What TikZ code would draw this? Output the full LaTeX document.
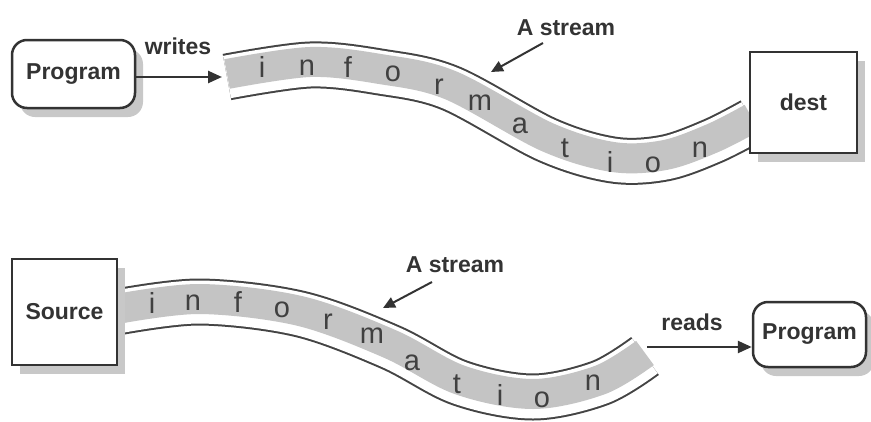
\documentclass[tikz,border=0pt]{standalone}
\usepackage{fontspec}
\setmainfont{Liberation Sans}
\usetikzlibrary{arrows.meta,shadows}
\definecolor{ink}{HTML}{333333}
\definecolor{bandgray}{HTML}{C4C4C4}
\definecolor{shadegray}{HTML}{C8C8C8}
\definecolor{rimgray}{HTML}{444444}
\begin{document}
\begin{tikzpicture}[x=1pt,y=-1pt,
  box/.style={draw=ink, line width=2.5pt, fill=white, inner sep=0pt,
    drop shadow={shadow xshift=8pt, shadow yshift=-9pt, fill=shadegray, opacity=1},
    font=\fontsize{23}{23}\selectfont\bfseries, text=ink},
  rbox/.style={box, rounded corners=15pt},
  lbl/.style={font=\fontsize{23}{23}\selectfont\bfseries, text=ink, inner sep=0pt},
  ltr/.style={font=\fontsize{29}{29}\selectfont, text=black!75, anchor=base, inner sep=0pt},
  arr/.style={draw=ink, line width=2.5pt, -{Triangle[length=14pt,width=12pt]}},
  ptr/.style={draw=ink, line width=2pt, -{Triangle[length=12pt,width=11pt]}},
  rim/.style={draw=rimgray, line width=47pt},
  gapline/.style={draw=white, line width=43pt},
  flow/.style={draw=bandgray, line width=30pt, yshift=3pt}]
\useasboundingbox (0,0) rectangle (871,421);
\def\TopFlow{plot[smooth,tension=0.55] coordinates {(227,77) (310,65) (380,72) (450,88) (547,140) (613,160) (665,158) (713,141) (752,121)}}
\def\LowFlow{plot[smooth,tension=0.55] coordinates {(117,312) (200,302) (300,314) (390,347) (460,383) (533,397) (600,383) (645,356)}}
% streams
\draw[rim] \TopFlow;
\draw[gapline] \TopFlow;
\draw[flow] \TopFlow;
\draw[rim] \LowFlow;
\draw[gapline] \LowFlow;
\draw[flow] \LowFlow;
% letters top
\node[ltr] (a1) at (262,77) {i};
\node[ltr] (a2) at (307,75) {n};
\node[ltr] (a3) at (348,77) {f};
\node[ltr] (a4) at (393,81) {o};
\node[ltr] (a5) at (439,94) {r};
\node[ltr] (a6) at (480,110) {m};
\node[ltr] (a7) at (520,133) {a};
\node[ltr] (a8) at (565,157) {t};
\node[ltr] (a9) at (610,172) {i};
\node[ltr] (a10) at (653,172) {o};
\node[ltr] (a11) at (700,157) {n};
% letters bottom
\node[ltr] (b1) at (152,313) {i};
\node[ltr] (b2) at (193,310) {n};
\node[ltr] (b3) at (238,312) {f};
\node[ltr] (b4) at (282,317) {o};
\node[ltr] (b5) at (328,329) {r};
\node[ltr] (b6) at (372,343) {m};
\node[ltr] (b7) at (412,370) {a};
\node[ltr] (b8) at (457,393) {t};
\node[ltr] (b9) at (500,405) {i};
\node[ltr] (b10) at (542,407) {o};
\node[ltr] (b11) at (593,390) {n};
% boxes
\node[rbox, minimum width=123pt, minimum height=68pt] (prog1) at (73.5,74) {Program};
\node[box, minimum width=107pt, minimum height=101pt] (dest) at (803.5,102.5) {dest};
\node[box, minimum width=105pt, minimum height=106pt] (src) at (64.5,312) {Source};
\node[rbox, minimum width=113pt, minimum height=65pt] (prog2) at (809.5,334.5) {Program};
% labels
\node[lbl] (wr) at (178,46) {writes};
\node[lbl] (st1) at (566,28) {A stream};
\node[lbl] (st2) at (455,265) {A stream};
\node[lbl] (rd) at (692,322) {reads};
% connectors
\coordinate (s1in) at (222,77);
\draw[arr] (prog1.east |- s1in) -- (s1in);
\coordinate (s2out) at (647,347);
\draw[arr] (s2out) -- (s2out -| prog2.west);
\coordinate (t1a) at (543,43);
\coordinate (t1b) at (491,72);
\draw[ptr] (t1a) -- (t1b);
\coordinate (t2a) at (432,282);
\coordinate (t2b) at (383,308);
\draw[ptr] (t2a) -- (t2b);
\end{tikzpicture}
\end{document}
